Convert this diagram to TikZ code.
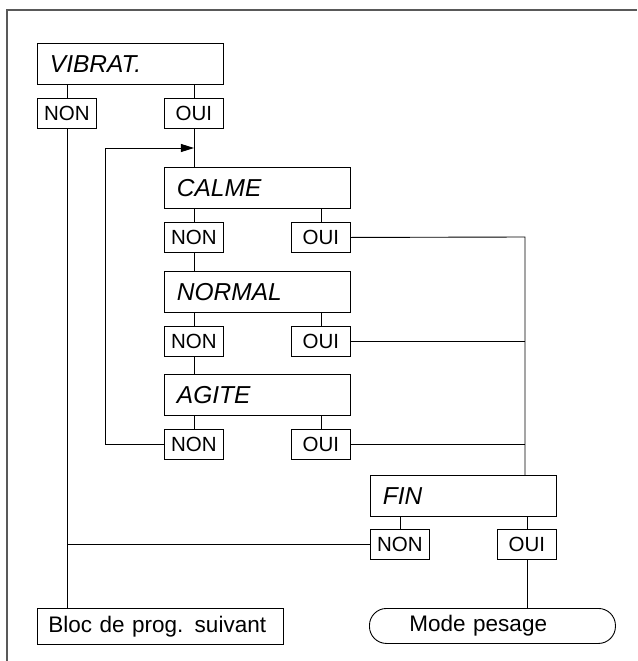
\documentclass[tikz,border=0pt]{standalone}
\usepackage{fontspec}
\setmainfont{Liberation Sans}
\usetikzlibrary{arrows.meta}
\begin{document}
\begin{tikzpicture}[x=1pt,y=-1pt,line width=0.9pt,
  statebox/.style={draw,anchor=north west,align=left,text width=161pt,inner xsep=12.5pt,
    minimum height=41pt,font=\itshape\fontsize{24.5}{27}\selectfont},
  answer/.style={draw,anchor=north west,inner sep=0pt,minimum width=59pt,minimum height=30pt,
    font=\fontsize{20.5}{23}\selectfont},
  endbox/.style={draw,anchor=north west,align=left,text width=224pt,inner xsep=11pt,
    minimum height=36pt,font=\fontsize{22.5}{25}\selectfont}]
\useasboundingbox (0,0) rectangle (637,661);
\draw[line width=1.5pt,gray!70!black] (7,661)--(7,10)--(637,10);
\node[statebox] (vib) at (37,43) {VIBRAT.};
\node[answer] (vibnon) at (37,98) {NON};
\node[answer] (viboui) at (164,98) {OUI};
\node[statebox] (calme) at (164,167) {CALME};
\node[answer] (cnon) at (164,222) {NON};
\node[answer] (coui) at (291,222) {OUI};
\node[statebox] (normal) at (164,271) {NORMAL};
\node[answer] (nnon) at (164,326) {NON};
\node[answer] (noui) at (291,326) {OUI};
\node[statebox] (agite) at (164,374) {AGITE};
\node[answer] (anon) at (164,429) {NON};
\node[answer] (aoui) at (291,429) {OUI};
\node[statebox] (fin) at (370,475) {FIN};
\node[answer] (fnon) at (370,529) {NON};
\node[answer] (foui) at (497,529) {OUI};
\node[endbox] (bloc) at (37,608) {Bloc de prog. suivant};
\node[endbox,rounded corners=17pt,text width=166pt,inner xsep=40pt,minimum height=35pt] (mode) at (369,608) {Mode pesage};
\coordinate (bus) at (525,237);
\coordinate (back) at (105,148);
\draw (vibnon.north)--(vibnon.north |- vib.south);
\draw (viboui.north)--(viboui.north |- vib.south);
\draw (viboui.south)--(viboui.south |- calme.north);
\foreach \s/\n/\o in {calme/cnon/coui,normal/nnon/noui,agite/anon/aoui,fin/fnon/foui} {
  \draw (\n.north)--(\n.north |- \s.south);
  \draw (\o.north)--(\o.north |- \s.south);
}
\draw (cnon.south)--(cnon.south |- normal.north);
\draw (nnon.south)--(nnon.south |- agite.north);
\draw (coui.east)--(bus)--(bus |- fin.north);
\draw (noui.east)--(noui.east -| bus);
\draw (aoui.east)--(aoui.east -| bus);
\draw[-{Triangle[length=13pt,width=8pt]}] (anon.west) -| (back) -- (back -| viboui.south);
\draw (vibnon.south)--(vibnon.south |- bloc.north);
\draw (fnon.west)--(fnon.west -| vibnon.south);
\draw (foui.south)--(foui.south |- mode.north);
\end{tikzpicture}
\end{document}
